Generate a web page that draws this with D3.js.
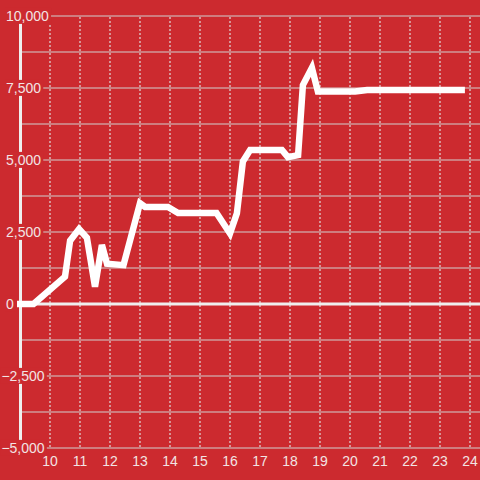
<!DOCTYPE html>
<html>
<head>
<meta charset="utf-8">
<script src="https://cdn.jsdelivr.net/npm/d3@7"></script>
<style>
  html, body { margin: 0; padding: 0; background: #cc2a2f; }
  svg { display: block; font-family: "Liberation Sans", Arial, sans-serif; }
</style>
</head>
<body>
<svg id="chart" width="480" height="480"></svg>
<script>
// === DATA ===
const times  = [8.9, 9.45, 10.5, 10.67, 10.97, 11.23, 11.5, 11.73, 11.9, 12.45, 13.0, 13.17, 13.93, 14.27, 15.55, 16.0, 16.23, 16.43, 16.67, 17.73, 17.93, 18.27, 18.43, 18.73, 18.93, 20.17, 20.57, 23.83];
const values = [0, 0, 950, 2200, 2600, 2300, 600, 2050, 1400, 1350, 3500, 3370, 3370, 3160, 3160, 2450, 3150, 4950, 5350, 5350, 5100, 5170, 7600, 8200, 7380, 7380, 7430, 7430];
const xTicks = [10, 11, 12, 13, 14, 15, 16, 17, 18, 19, 20, 21, 22, 23, 24];
const yTicks = [10000, 7500, 5000, 2500, 0, -2500, -5000];
const yGrid  = [10000, 8750, 7500, 6250, 5000, 3750, 2500, 1250, -1250, -2500, -3750, -5000];

// === SETUP ===
const W = 480, H = 480;
const svg = d3.select("#chart");
const x = d3.scaleLinear().domain([10, 24]).range([50, 470]);
const y = d3.scaleLinear().domain([-5000, 10000]).range([448, 16]);
const fmt = d3.format(",");
const bg = "#cc2a2f";

svg.append("rect").attr("width", W).attr("height", H).attr("fill", bg);

// horizontal grid
svg.append("g").selectAll("line")
  .data(yGrid)
  .join("line")
  .attr("x1", 22).attr("x2", W)
  .attr("y1", d => y(d)).attr("y2", d => y(d))
  .attr("stroke", "#cfcfcf").attr("stroke-width", 1.2);

// vertical dashed grid
svg.append("g").selectAll("line")
  .data(xTicks)
  .join("line")
  .attr("x1", d => x(d)).attr("x2", d => x(d))
  .attr("y1", y(10000) + 1).attr("y2", y(-5000) - 1)
  .attr("stroke", "#dcdcdc").attr("stroke-width", 1.2)
  .attr("stroke-dasharray", "2,2");

// axis bar + zero line
svg.append("line")
  .attr("x1", 20.5).attr("x2", 20.5)
  .attr("y1", y(10000)).attr("y2", y(-5000))
  .attr("stroke", "#efefef").attr("stroke-width", 3);
svg.append("line")
  .attr("x1", 17).attr("x2", W)
  .attr("y1", y(0)).attr("y2", y(0))
  .attr("stroke", "#efefef").attr("stroke-width", 3);

// y labels with background boxes
const yl = svg.append("g").selectAll("g")
  .data(yTicks)
  .join("g");
yl.append("rect").attr("class", "lblbg");
yl.append("text")
  .attr("x", d => d < 0 ? 1.4 : 6)
  .attr("y", d => y(d))
  .attr("dy", "0.35em")
  .attr("font-size", 14)
  .attr("fill", "#f2e4e4")
  .text(d => fmt(d));
yl.each(function() {
  const g = d3.select(this);
  const b = g.select("text").node().getBBox();
  g.select("rect")
    .attr("x", b.x - 1).attr("y", b.y)
    .attr("width", b.width + 3).attr("height", b.height)
    .attr("fill", bg);
});

// x labels
svg.append("g").selectAll("text")
  .data(xTicks)
  .join("text")
  .attr("x", d => x(d))
  .attr("y", 466)
  .attr("text-anchor", "middle")
  .attr("font-size", 14)
  .attr("fill", "#f2e4e4")
  .text(d => d);

// === LINE ===
const line = d3.line()
  .x((d, i) => x(times[i]))
  .y(d => y(d));
svg.append("path")
  .datum(values)
  .attr("d", line)
  .attr("fill", "none")
  .attr("stroke", "#ffffff")
  .attr("stroke-width", 6.5)
  .attr("stroke-linejoin", "miter");
</script>
</body>
</html>
